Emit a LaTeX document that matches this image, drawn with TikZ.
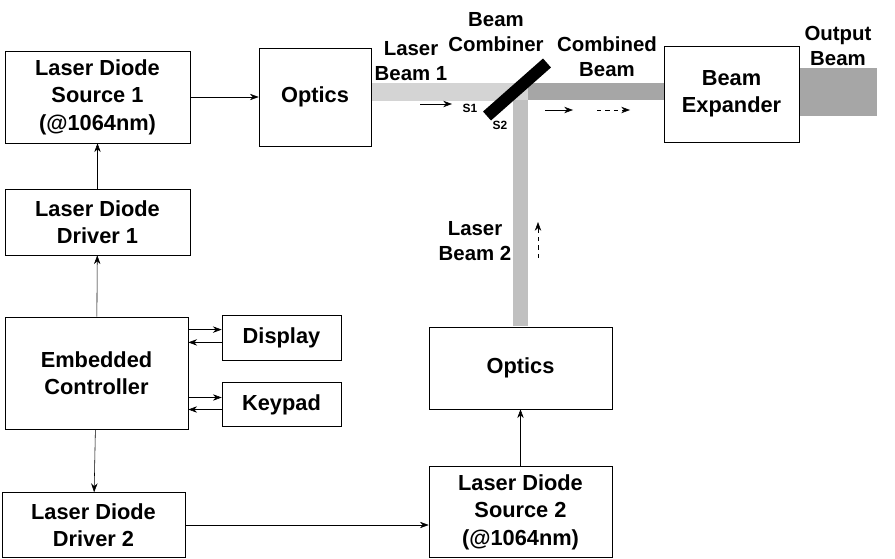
\documentclass[tikz,border=0pt]{standalone}
\usepackage{fontspec}
\setmainfont{Liberation Sans}
\usetikzlibrary{arrows.meta}
\definecolor{beamlight}{HTML}{D4D4D4}
\definecolor{beammid}{HTML}{C0C0C0}
\definecolor{beamdark}{HTML}{A6A6A6}
\begin{document}
\begin{tikzpicture}[>={Stealth[length=2.2mm,width=1.6mm]}, x={(0.025cm,0)}, y={(0,-0.025cm)},
	box/.style={draw, thin, align=center, inner sep=0pt, font=\bfseries\fontsize{15.5}{19.5}\selectfont},
	lbl/.style={align=center, inner sep=0pt, font=\bfseries\fontsize{14.5}{18}\selectfont},
	tiny/.style={inner sep=0pt, font=\bfseries\fontsize{8.5}{10}\selectfont}]
		\useasboundingbox (0,0) rectangle (895,559);
		% beams
		\fill[beamlight] (371,83) rectangle (528,101);
		\fill[beamdark] (528,83) rectangle (664,100);
		\fill[beammid] (513,100) rectangle (528,326);
		\fill[beamdark] (799,68) rectangle (877,116);
		\draw[line width=0.3cm] (487,116) -- (547,63);
		% blocks
		\node[box, minimum width=4.625cm, minimum height=2.3cm] (src1) at (97.5,97) {Laser Diode\\Source 1\\(@1064nm)};
		\node[box, minimum width=2.8cm, minimum height=2.45cm] (opt1) at (315,97) {Optics};
		\node[box, minimum width=4.625cm, minimum height=1.65cm] (drv1) at (97.5,222) {Laser Diode\\Driver 1};
		\node[box, minimum width=4.575cm, minimum height=2.8cm] (ctrl) at (96.5,373) {Embedded\\Controller};
		\node[box, minimum width=2.975cm, minimum height=1.125cm] (disp) at (281.5,338) {Display};
		\node[box, minimum width=2.975cm, minimum height=1.1cm] (keys) at (281.5,404.5) {Keypad};
		\node[box, minimum width=4.575cm, minimum height=1.625cm] (drv2) at (93.5,525) {Laser Diode\\Driver 2};
		\node[box, minimum width=4.575cm, minimum height=2.275cm] (src2) at (520.5,512) {Laser Diode\\Source 2\\(@1064nm)};
		\node[box, minimum width=4.575cm, minimum height=2.05cm] (opt2) at (520.5,368) {Optics};
		\node[box, minimum width=3.375cm, minimum height=2.4cm] (bexp) at (731.5,94) {Beam\\Expander};
		% labels
		\node[lbl] (lb1) at (411,61) {Laser\\Beam 1};
		\node[lbl] (comb) at (496,32) {Beam\\Combiner};
		\node[lbl] (cb) at (607,57) {Combined\\Beam};
		\node[lbl] (outb) at (838,46) {Output\\Beam};
		\node[lbl] (lb2) at (475,241) {Laser\\Beam 2};
		\node[tiny] (s1) at (470,108) {S1};
		\node[tiny] (s2) at (500,125) {S2};
		% connections
		\draw[->] (src1) -- (opt1);
		\draw[->] (drv1) -- (src1);
		\draw[->] (ctrl) -- (drv1);
		\draw[->] (ctrl) -- (drv2);
		\draw[->] (drv2.east |- 0,525) -- (src2.west |- 0,525);
		\draw[->] (src2) -- (opt2);
		\draw[->] ([yshift=0.21cm]disp.west -| ctrl.east) -- ([yshift=0.21cm]disp.west);
		\draw[->] ([yshift=-0.11cm]disp.west) -- ([yshift=-0.11cm]disp.west -| ctrl.east);
		\draw[->] ([yshift=0.175cm]keys.west -| ctrl.east) -- ([yshift=0.175cm]keys.west);
		\draw[->] ([yshift=-0.125cm]keys.west) -- ([yshift=-0.125cm]keys.west -| ctrl.east);
		% beam direction
		\draw[->] (420,104) -- (452,104);
		\draw[->] (545,110) -- (573,110);
		\draw[->, dashed] (597,110) -- (630,110);
		\draw[->, dashed] (538,258) -- (538,222);
	\end{tikzpicture}
\end{document}
